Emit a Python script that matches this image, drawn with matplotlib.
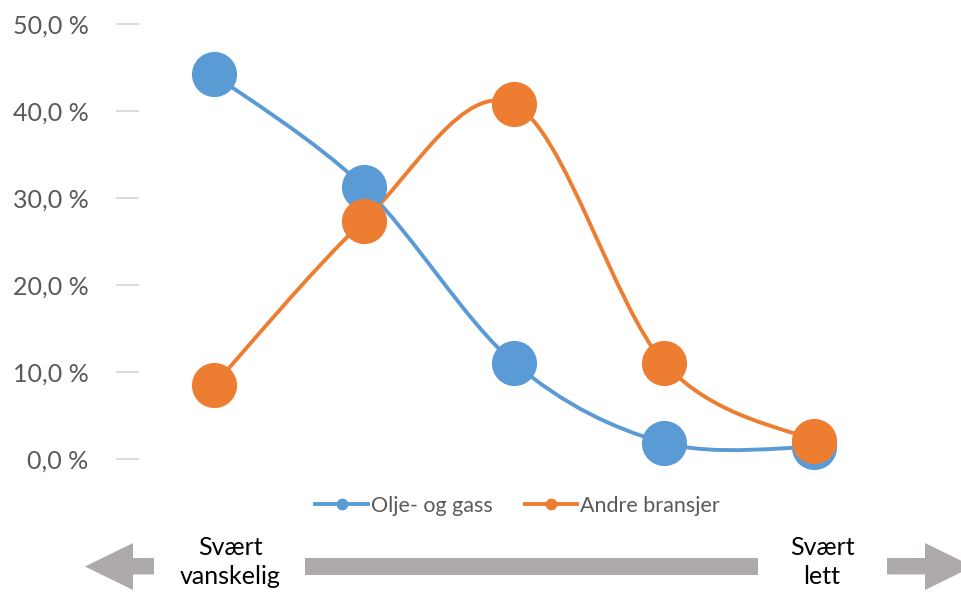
import matplotlib
matplotlib.use("Agg")
import matplotlib.pyplot as plt
import numpy as np
from matplotlib.path import Path
from matplotlib.patches import PathPatch, Polygon
from matplotlib.lines import Line2D

plt.rcParams['font.family'] = ['Lato', 'DejaVu Sans']

# Data (andel i prosent)
kategorier = [0, 1, 2, 3, 4]
olje_gass = [44.2, 31.3, 11.1, 1.9, 1.4]
andre_bransjer = [8.5, 27.4, 40.8, 11.1, 2.1]
serienavn = ['Olje- og gass', 'Andre bransjer']
farger = ['#5B9BD5', '#ED7D31']
y_ticks = [0, 10, 20, 30, 40, 50]
y_labels = ['0,0 %', '10,0 %', '20,0 %', '30,0 %', '40,0 %', '50,0 %']

W, H = 962, 597
fig = plt.figure(figsize=(W / 100, H / 100), dpi=100)
ax = fig.add_axes([138.7 / W, (H - 459.3) / H, (889 - 138.7) / W, (459.3 - 24) / H])


def glatt_sti(x, y):
    # Excel-lignende glatting: kubiske Bezier-kurver gjennom punktene
    x = np.asarray(x, float)
    y = np.asarray(y, float)
    n = len(x)
    verts = [(x[0], y[0])]
    codes = [Path.MOVETO]
    for i in range(n - 1):
        i0 = max(i - 1, 0)
        i3 = min(i + 2, n - 1)
        c1 = (x[i] + (x[i + 1] - x[i0]) / 6, y[i] + (y[i + 1] - y[i0]) / 6)
        c2 = (x[i + 1] - (x[i3] - x[i]) / 6, y[i + 1] - (y[i3] - y[i]) / 6)
        verts += [c1, c2, (x[i + 1], y[i + 1])]
        codes += [Path.CURVE4] * 3
    return Path(verts, codes)


for verdier, farge in zip([olje_gass, andre_bransjer], farger):
    ax.add_patch(PathPatch(glatt_sti(kategorier, verdier), facecolor='none',
                           edgecolor=farge, lw=2.8, capstyle='round', clip_on=False))
    ax.plot(kategorier, verdier, 'o', color=farge, markersize=32.5,
            markeredgewidth=0, clip_on=False)

ax.set_xlim(-0.5, 4.5)
ax.set_ylim(0, 50)
ax.set_yticks(y_ticks)
ax.set_yticklabels(y_labels)
ax.set_xticks([])
for s in ax.spines.values():
    s.set_visible(False)
ax.tick_params(axis='y', length=16.5, width=1.3, color='#D9D9D9', pad=19.5,
               labelsize=18, labelcolor='#595959')

# Tegnforklaring
handles = [Line2D([0], [0], color=f, lw=2.8, marker='o', markersize=8.5,
                  markeredgewidth=0) for f in farger]
fig.legend(handles, serienavn, loc='center', bbox_to_anchor=(517.5 / W, 1 - 506 / H),
           ncol=2, frameon=False, fontsize=15.5, labelcolor='#595959',
           handlelength=2.45, handletextpad=0.12, columnspacing=1.5)

# Piler under diagrammet
grå = '#AEAAAA'


def px(pts):
    return [(a / W, 1 - b / H) for a, b in pts]


venstre_pil = px([(85, 566.5), (133, 543), (133, 558), (154, 558), (154, 574.5),
                  (133, 574.5), (133, 590)])
midt_stolpe = px([(305, 558), (758, 558), (758, 574.5), (305, 574.5)])
høyre_pil = px([(887, 558), (925, 558), (925, 543), (973, 566.5), (925, 590),
                (925, 574.5), (887, 574.5)])
for poly in [venstre_pil, midt_stolpe, høyre_pil]:
    fig.patches.append(Polygon(poly, closed=True, transform=fig.transFigure,
                               facecolor=grå, edgecolor='none'))

fig.text(230 / W, 1 - 562 / H, 'Svært\nvanskelig', ha='center', va='center',
         fontsize=18, color='black', linespacing=1.3)
fig.text(822 / W, 1 - 562 / H, 'Svært\nlett', ha='center', va='center',
         fontsize=18, color='black', linespacing=1.3)

fig.savefig('out.png', dpi=100)
